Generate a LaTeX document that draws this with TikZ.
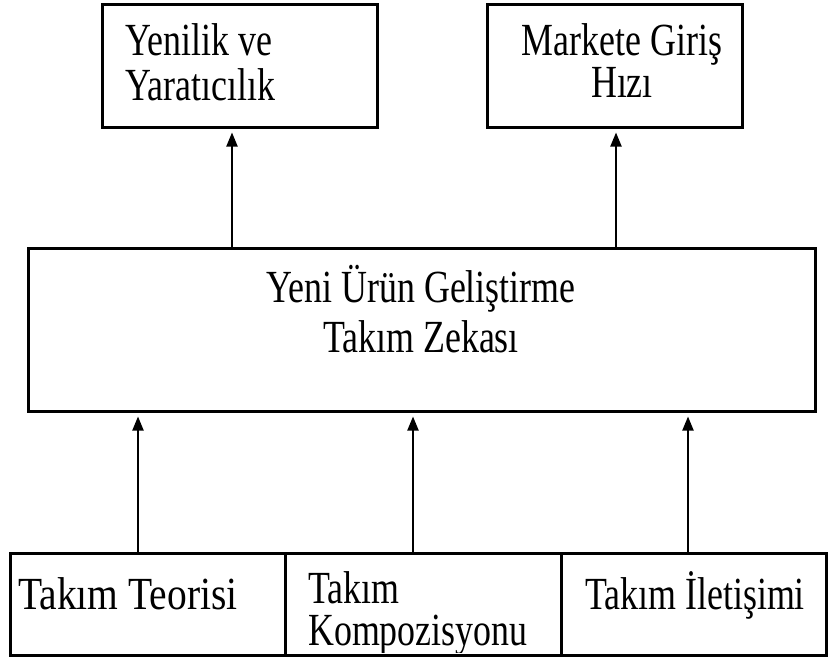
\documentclass[tikz,border=0pt]{standalone}
\usepackage{fontspec}
\setmainfont{Liberation Serif}[FakeStretch=0.78]
\usetikzlibrary{arrows.meta}
\begin{document}
\begin{tikzpicture}[x=1pt,y=-1pt,
  box/.style={draw,line width=3pt,inner sep=0pt},
  lbl/.style={font=\fontsize{46}{50}\selectfont,inner sep=0pt,anchor=base},
  lblw/.style={lbl,anchor=base west},
  conn/.style={line width=2pt,shorten >=4pt,-{Triangle[length=14pt,width=11pt]}}]
\useasboundingbox[fill=white] (0,0) rectangle (828,657);
% boxes
\node[box,minimum width=275pt,minimum height=123pt] (a) at (239.5,65.5) {};
\node[box,minimum width=255pt,minimum height=123pt] (b) at (614.5,65.5) {};
\node[box,minimum width=787pt,minimum height=163pt] (c) at (421.5,329.5) {};
\node[box,minimum width=275pt,minimum height=102pt] (d) at (147.5,604) {};
\node[box,minimum width=276pt,minimum height=102pt] (e) at (423,604) {};
\node[box,minimum width=265pt,minimum height=102pt] (f) at (693.5,604) {};
% texts
\node[lblw] (a1) at (125,55) {Yenilik ve};
\node[lblw] (a2) at (125,100) {Yaratıcılık};
\node[lbl] (b1) at (622,55) {Markete Giriş};
\node[lbl] (b2) at (622,97) {Hızı};
\node[lbl] (c1) at (421,302) {Yeni Ürün Geliştirme};
\node[lbl] (c2) at (421,352) {Takım Zekası};
\node[lblw] (d1) at (18,609) {\scalebox{1.1}[1]{Takım Teorisi}};
\node[lblw] (e1) at (308,603) {Takım};
\begin{scope}
  \clip (285,553) rectangle (561,652);
  \node[lblw] (e2) at (308,645) {Kompozisyonu};
\end{scope}
\node[lbl] (f1) at (695,609) {Takım İletişimi};
% connectors
\draw[conn] ([xshift=-9.5pt]d.north) -- ([xshift=-9.5pt]d.north |- c.south);
\draw[conn] ([xshift=-10pt]e.north) -- ([xshift=-10pt]e.north |- c.south);
\draw[conn] ([xshift=-5.5pt]f.north) -- ([xshift=-5.5pt]f.north |- c.south);
\draw[conn] ([xshift=-7.5pt]a.south |- c.north) -- ([xshift=-7.5pt]a.south);
\draw[conn] ([xshift=1.5pt]b.south |- c.north) -- ([xshift=1.5pt]b.south);
\end{tikzpicture}
\end{document}
